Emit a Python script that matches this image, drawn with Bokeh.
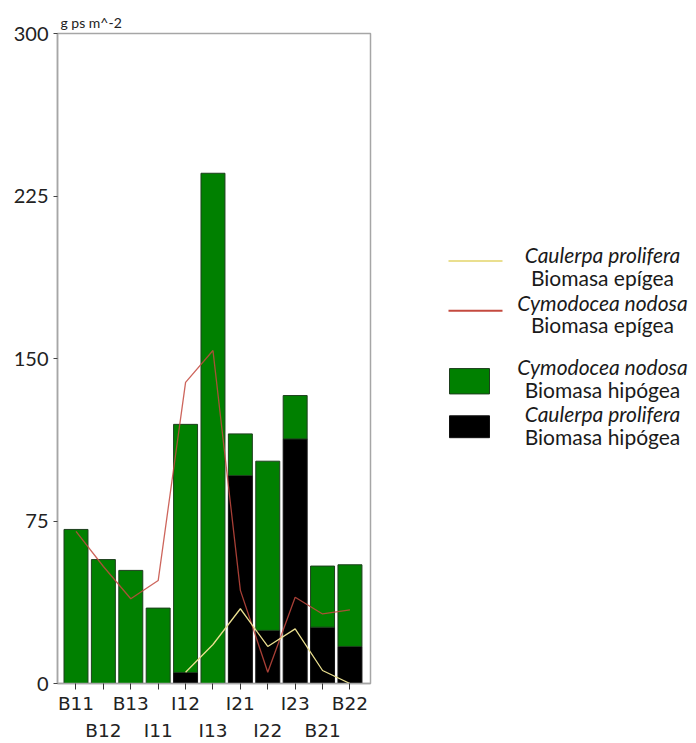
from bokeh.plotting import figure
from bokeh.models import Range1d, FixedTicker, LinearAxis, Title, ColumnDataSource
from bokeh.layouts import row
from bokeh.embed import file_html
from bokeh.resources import INLINE
from bokeh.core.properties import value

# ---------------- data ----------------
categories = ["B11", "B12", "B13", "I11", "I12", "I13", "I21", "I22", "I23", "B21", "B22"]
caulerpa_hipogea = [0, 0, 0, 0, 5.1, 0, 96.0, 24.5, 112.9, 26.0, 17.1]
cymodocea_hipogea = [71.1, 57.2, 52.2, 34.8, 114.5, 235.5, 19.2, 78.1, 20.0, 28.2, 37.7]
cymodocea_epigea = [70.2, 54.0, 39.1, 47.5, 139.0, 153.7, 43.0, 5.2, 39.8, 32.1, 34.0]
caulerpa_epigea = [float("nan"), float("nan"), float("nan"), float("nan"), 5.2, 18.0, 34.5, 17.1, 25.2, 6.0, 0.0]
y_ticks = [0, 75, 150, 225, 300]
unit_label = "g ps m^-2"

legend_species = ["Caulerpa prolifera", "Cymodocea nodosa", "Cymodocea nodosa", "Caulerpa prolifera"]
legend_parts = ["Biomasa epígea", "Biomasa epígea", "Biomasa hipógea", "Biomasa hipógea"]

FONT = "Lato"
XFONT = "DejaVu Sans"
GREEN = "#008000"
RED = "#c44a3f"
YELLOW = "#eadf8f"
GREY = "#a6a6a6"

x = list(range(len(categories)))
src = ColumnDataSource(dict(x=x, cau_hip=caulerpa_hipogea, cym_hip=cymodocea_hipogea,
                            cym_epi=cymodocea_epigea, cau_epi=caulerpa_epigea))

MAIN_W = 372
H = 743
p = figure(width=MAIN_W, height=H,
           x_range=Range1d(-0.675, 10.75), y_range=Range1d(0, 300),
           output_backend="svg", toolbar_location=None,
           x_axis_location=None, y_axis_location="left",
           min_border_left=57, min_border_right=2, min_border_top=33, min_border_bottom=60)
p.grid.visible = False
p.outline_line_color = GREY
p.outline_line_width = 1.5
p.background_fill_color = "white"
p.border_fill_color = "white"

p.add_layout(Title(text=unit_label, align="left", text_font=FONT, text_font_size="14px",
                   text_font_style="normal", text_color="#222222", standoff=5, offset=3), "above")

ya = p.yaxis[0]
ya.ticker = FixedTicker(ticks=y_ticks)
ya.axis_line_color = GREY
ya.axis_line_width = 1.5
ya.major_tick_out = 4
ya.major_tick_in = 0
ya.major_tick_line_color = "#444444"
ya.minor_tick_line_color = None
ya.major_label_text_font = FONT
ya.major_label_text_font_size = "20px"
ya.major_label_text_color = "#222222"
ya.major_label_standoff = 5

ticks = FixedTicker(ticks=x)
ax1 = LinearAxis(ticker=ticks,
                 major_label_overrides={i: (c if i % 2 == 0 else "") for i, c in enumerate(categories)})
ax2 = LinearAxis(ticker=ticks,
                 major_label_overrides={i: (c if i % 2 == 1 else "") for i, c in enumerate(categories)})
for ax in (ax1, ax2):
    ax.major_label_text_font = XFONT
    ax.major_label_text_font_size = "18.5px"
    ax.major_label_text_color = "#222222"
    ax.minor_tick_line_color = None
ax1.axis_line_color = GREY
ax1.axis_line_width = 1.5
ax1.major_tick_out = 6
ax1.major_tick_in = 0
ax1.major_tick_line_color = "#333333"
ax1.major_label_standoff = 3
ax2.axis_line_color = None
ax2.major_tick_line_color = None
ax2.major_tick_out = 0
ax2.major_tick_in = 0
ax2.major_label_standoff = 3
p.add_layout(ax1, "below")
p.add_layout(ax2, "below")

p.vbar_stack(["cau_hip", "cym_hip"], x="x", width=0.875, source=src,
             fill_color=["black", GREEN], line_color=["#111111", "#1d3f1d"], line_width=1)
p.line("x", "cym_epi", source=src, line_color=RED, line_width=1.3, line_alpha=0.85)
p.line("x", "cau_epi", source=src, line_color=YELLOW, line_width=1.3)

# ---------------- legend panel (page pixel coordinates) ----------------
LEG_W = 696 - MAIN_W
x0 = MAIN_W
leg = figure(width=LEG_W, height=H, x_range=Range1d(x0, x0 + LEG_W), y_range=Range1d(H, 0),
             output_backend="svg", toolbar_location=None,
             min_border=0, x_axis_location=None, y_axis_location=None)
leg.grid.visible = False
leg.outline_line_color = None

line_y = [260, 317]
leg.segment(x0=[448, 448], y0=line_y, x1=[502, 502], y1=line_y,
            line_color=[YELLOW, RED], line_width=2)
leg.quad(left=[449, 449], right=[489, 489], top=[383, 437], bottom=[412, 462],
         fill_color=[GREEN, "black"], line_color=["#1d3f1d", "#111111"], line_width=1)

text_x = 602
row1_y = [253, 307, 381, 434]
row2_y = [279, 333, 407, 461]
leg.text(x=[text_x] * 4, y=row1_y, text=legend_species, text_font=value(FONT),
         text_font_size="21px", text_font_style="italic", text_align="center",
         text_baseline="middle", text_color="#1a1a1a")
leg.text(x=[text_x] * 4, y=row2_y, text=legend_parts, text_font=value(FONT),
         text_font_size="21px", text_align="center", text_baseline="middle", text_color="#1a1a1a")

layout = row(p, leg)
open("out.html", "w").write(file_html(layout, INLINE))
